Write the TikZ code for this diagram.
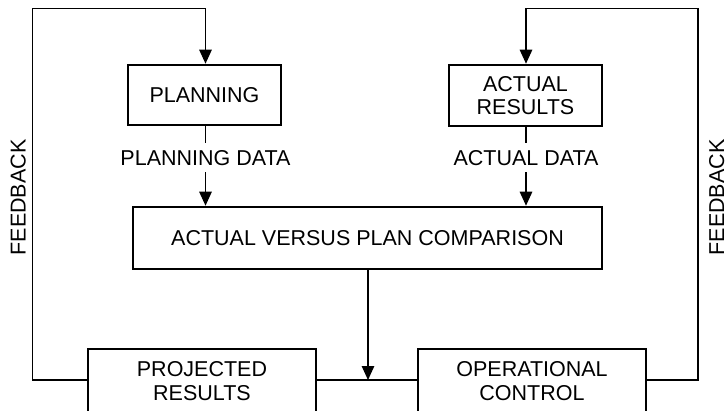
\documentclass[tikz,border=0pt]{standalone}
\usepackage{fontspec}
\setmainfont{Liberation Sans}
\usetikzlibrary{arrows.meta}
\begin{document}
\begin{tikzpicture}[x=1pt,y=-1pt,
  every node/.style={font=\fontsize{21.5}{23.5}\selectfont},
  block/.style={draw, line width=2.6pt, align=center, inner sep=0pt},
  link/.style={line width=1.2pt},
  arr/.style={link, -{Triangle[length=14pt,width=12.5pt]}},
  datalabel/.style={inner xsep=0pt, inner ysep=7pt, text height=15pt, text depth=0pt},
  sidelabel/.style={rotate=90, inner sep=0pt, text height=15pt, text depth=0pt}]
  \useasboundingbox (0,0) rectangle (727,410);

  % blocks
  \node[block, minimum width=153pt, minimum height=60pt] (plan) at (204.5,95) {PLANNING};
  \node[block, minimum width=153pt, minimum height=61pt] (act) at (525.5,95.5) {ACTUAL\\RESULTS};
  \node[block, minimum width=469pt, minimum height=62pt] (comp) at (367.5,238) {ACTUAL VERSUS PLAN COMPARISON};
  \node[block, minimum width=228pt, minimum height=64pt] (proj) at (202,381) {PROJECTED\\RESULTS};
  \node[block, minimum width=228pt, minimum height=64pt] (oper) at (532,381) {OPERATIONAL\\CONTROL};

  % data labels on the vertical links
  \node[datalabel] (pdata) at (205.5,157.5) {PLANNING DATA};
  \node[datalabel] (adata) at (526,157.5) {ACTUAL DATA};

  % side labels
  \node[sidelabel] (fbl) at (18,197.5) {FEEDBACK};
  \node[sidelabel] (fbr) at (716.5,197.5) {FEEDBACK};

  % corner points of the feedback loops
  \coordinate (lb) at (32.5,380);
  \coordinate (lt) at (32.5,8.5);
  \coordinate (rb) at (698,380);
  \coordinate (rt) at (698,8.5);
  \coordinate (join) at (368,380);

  % data flow into the comparison
  \draw[link] (plan.south -| pdata) -- (pdata.north);
  \draw[arr] (pdata.south) -- (comp.north -| pdata);
  \draw[link] (act.south -| adata) -- (adata.north);
  \draw[arr] (adata.south) -- (comp.north -| adata);

  % comparison result down to the bottom line
  \draw[arr] (comp.south -| join) -- (join);
  \draw[link] (proj.east |- join) -- (oper.west |- join);

  % feedback loops
  \draw[arr] (proj.west |- lb) -- (lb) -- (lt) -- (lt -| pdata) -- (plan.north -| pdata);
  \draw[arr] (oper.east |- rb) -- (rb) -- (rt) -- (rt -| adata) -- (act.north -| adata);
\end{tikzpicture}
\end{document}
